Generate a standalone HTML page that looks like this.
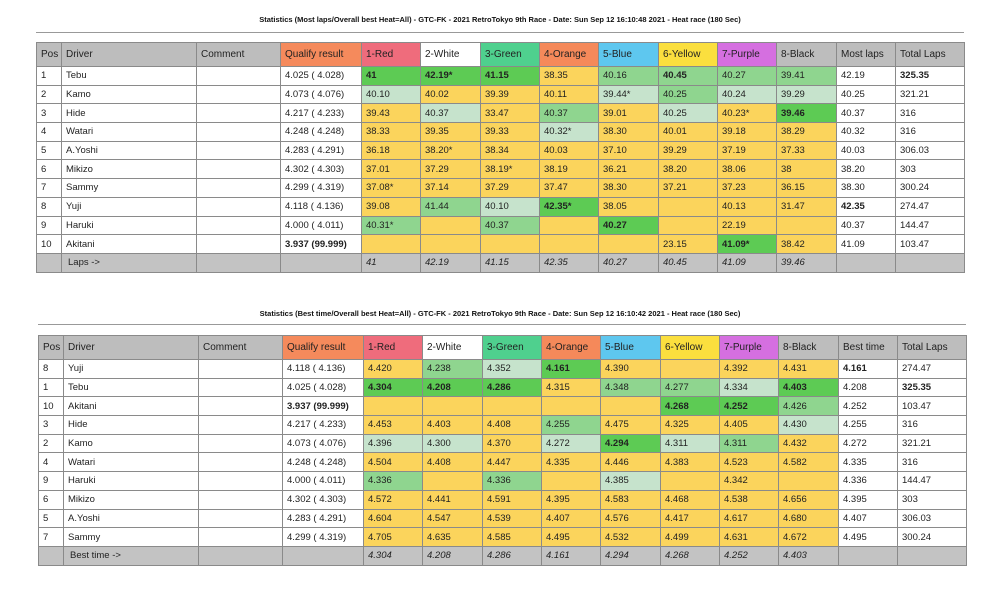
<!DOCTYPE html>
<html><head><meta charset="utf-8"><style>
body{margin:0;width:1000px;height:589px;background:#fff;position:relative;overflow:hidden;font-family:"Liberation Sans","DejaVu Sans",sans-serif;}
.title{position:absolute;left:0;width:1000px;text-align:center;font-size:7.5px;font-weight:bold;color:#111;}
.hr{position:absolute;height:1px;background:#999;}
table{position:absolute;border-collapse:collapse;table-layout:fixed;font-size:9.5px;color:#222;}
td{border:1px solid #8a8a8a;padding:0 0 0 4px;white-space:nowrap;overflow:hidden;height:17.7px;line-height:17px;}
tr.h td{height:23px;background:#bdbdbd;font-size:10px;}
tr.f td{height:18px;background:#c3c3c3;font-style:italic;}
.Y{background:#fbd45c}.G{background:#5dcb54}.M{background:#8fd58f}.L{background:#c6e3cc}
.q{background:#f58a5c!important}.r{background:#ef6c7c!important}.w{background:#fff!important}.gr{background:#4fd08e!important}.o{background:#f5895a!important}.bl{background:#5ec7ef!important}.yl{background:#fbdf3e!important}.pu{background:#d56fe0!important}
b{font-weight:bold}
</style></head><body>
<div class="title" style="top:15px">Statistics (Most laps/Overall best Heat=All) - GTC-FK - 2021 RetroTokyo 9th Race - Date: Sun Sep 12 16:10:48 2021 - Heat race (180 Sec)</div>
<div class="hr" style="top:32px;left:36px;width:928px"></div>
<table style="left:36px;top:42px;width:928px">
<colgroup><col style="width:25px"><col style="width:135px"><col style="width:84px"><col style="width:81px"><col style="width:59px"><col style="width:60px"><col style="width:59px"><col style="width:59px"><col style="width:60px"><col style="width:59px"><col style="width:59px"><col style="width:60px"><col style="width:59px"><col style="width:69px"></colgroup>
<tr class="h"><td>Pos</td><td>Driver</td><td>Comment</td><td class="q">Qualify result</td><td class="r">1-Red</td><td class="w">2-White</td><td class="gr">3-Green</td><td class="o">4-Orange</td><td class="bl">5-Blue</td><td class="yl">6-Yellow</td><td class="pu">7-Purple</td><td>8-Black</td><td>Most laps</td><td>Total Laps</td></tr>
<tr><td>1</td><td>Tebu</td><td></td><td>4.025 ( 4.028)</td><td class="G"><b>41</b></td><td class="G"><b>42.19*</b></td><td class="G"><b>41.15</b></td><td class="Y">38.35</td><td class="M">40.16</td><td class="M"><b>40.45</b></td><td class="M">40.27</td><td class="M">39.41</td><td>42.19</td><td><b>325.35</b></td></tr>
<tr><td>2</td><td>Kamo</td><td></td><td>4.073 ( 4.076)</td><td class="L">40.10</td><td class="Y">40.02</td><td class="Y">39.39</td><td class="Y">40.11</td><td class="L">39.44*</td><td class="M">40.25</td><td class="L">40.24</td><td class="L">39.29</td><td>40.25</td><td>321.21</td></tr>
<tr><td>3</td><td>Hide</td><td></td><td>4.217 ( 4.233)</td><td class="Y">39.43</td><td class="L">40.37</td><td class="Y">33.47</td><td class="M">40.37</td><td class="Y">39.01</td><td class="L">40.25</td><td class="Y">40.23*</td><td class="G"><b>39.46</b></td><td>40.37</td><td>316</td></tr>
<tr><td>4</td><td>Watari</td><td></td><td>4.248 ( 4.248)</td><td class="Y">38.33</td><td class="Y">39.35</td><td class="Y">39.33</td><td class="L">40.32*</td><td class="Y">38.30</td><td class="Y">40.01</td><td class="Y">39.18</td><td class="Y">38.29</td><td>40.32</td><td>316</td></tr>
<tr><td>5</td><td>A.Yoshi</td><td></td><td>4.283 ( 4.291)</td><td class="Y">36.18</td><td class="Y">38.20*</td><td class="Y">38.34</td><td class="Y">40.03</td><td class="Y">37.10</td><td class="Y">39.29</td><td class="Y">37.19</td><td class="Y">37.33</td><td>40.03</td><td>306.03</td></tr>
<tr><td>6</td><td>Mikizo</td><td></td><td>4.302 ( 4.303)</td><td class="Y">37.01</td><td class="Y">37.29</td><td class="Y">38.19*</td><td class="Y">38.19</td><td class="Y">36.21</td><td class="Y">38.20</td><td class="Y">38.06</td><td class="Y">38</td><td>38.20</td><td>303</td></tr>
<tr><td>7</td><td>Sammy</td><td></td><td>4.299 ( 4.319)</td><td class="Y">37.08*</td><td class="Y">37.14</td><td class="Y">37.29</td><td class="Y">37.47</td><td class="Y">38.30</td><td class="Y">37.21</td><td class="Y">37.23</td><td class="Y">36.15</td><td>38.30</td><td>300.24</td></tr>
<tr><td>8</td><td>Yuji</td><td></td><td>4.118 ( 4.136)</td><td class="Y">39.08</td><td class="M">41.44</td><td class="L">40.10</td><td class="G"><b>42.35*</b></td><td class="Y">38.05</td><td class="Y"></td><td class="Y">40.13</td><td class="Y">31.47</td><td><b>42.35</b></td><td>274.47</td></tr>
<tr><td>9</td><td>Haruki</td><td></td><td>4.000 ( 4.011)</td><td class="M">40.31*</td><td class="Y"></td><td class="M">40.37</td><td class="Y"></td><td class="G"><b>40.27</b></td><td class="Y"></td><td class="Y">22.19</td><td class="Y"></td><td>40.37</td><td>144.47</td></tr>
<tr><td>10</td><td>Akitani</td><td></td><td><b>3.937 (99.999)</b></td><td class="Y"></td><td class="Y"></td><td class="Y"></td><td class="Y"></td><td class="Y"></td><td class="Y">23.15</td><td class="G"><b>41.09*</b></td><td class="Y">38.42</td><td>41.09</td><td>103.47</td></tr>
<tr class="f"><td></td><td style="font-style:normal;padding-left:6px">Laps -&gt;</td><td></td><td></td><td>41</td><td>42.19</td><td>41.15</td><td>42.35</td><td>40.27</td><td>40.45</td><td>41.09</td><td>39.46</td><td></td><td></td></tr>
</table>

<div class="title" style="top:309px">Statistics (Best time/Overall best Heat=All) - GTC-FK - 2021 RetroTokyo 9th Race - Date: Sun Sep 12 16:10:42 2021 - Heat race (180 Sec)</div>
<div class="hr" style="top:324px;left:38px;width:928px"></div>
<table style="left:38px;top:335px;width:928px">
<colgroup><col style="width:25px"><col style="width:135px"><col style="width:84px"><col style="width:81px"><col style="width:59px"><col style="width:60px"><col style="width:59px"><col style="width:59px"><col style="width:60px"><col style="width:59px"><col style="width:59px"><col style="width:60px"><col style="width:59px"><col style="width:69px"></colgroup>
<tr class="h"><td>Pos</td><td>Driver</td><td>Comment</td><td class="q">Qualify result</td><td class="r">1-Red</td><td class="w">2-White</td><td class="gr">3-Green</td><td class="o">4-Orange</td><td class="bl">5-Blue</td><td class="yl">6-Yellow</td><td class="pu">7-Purple</td><td>8-Black</td><td>Best time</td><td>Total Laps</td></tr>
<tr><td>8</td><td>Yuji</td><td></td><td>4.118 ( 4.136)</td><td class="Y">4.420</td><td class="M">4.238</td><td class="L">4.352</td><td class="G"><b>4.161</b></td><td class="Y">4.390</td><td class="Y"></td><td class="Y">4.392</td><td class="Y">4.431</td><td><b>4.161</b></td><td>274.47</td></tr>
<tr><td>1</td><td>Tebu</td><td></td><td>4.025 ( 4.028)</td><td class="G"><b>4.304</b></td><td class="G"><b>4.208</b></td><td class="G"><b>4.286</b></td><td class="Y">4.315</td><td class="M">4.348</td><td class="M">4.277</td><td class="L">4.334</td><td class="G"><b>4.403</b></td><td>4.208</td><td><b>325.35</b></td></tr>
<tr><td>10</td><td>Akitani</td><td></td><td><b>3.937 (99.999)</b></td><td class="Y"></td><td class="Y"></td><td class="Y"></td><td class="Y"></td><td class="Y"></td><td class="G"><b>4.268</b></td><td class="G"><b>4.252</b></td><td class="M">4.426</td><td>4.252</td><td>103.47</td></tr>
<tr><td>3</td><td>Hide</td><td></td><td>4.217 ( 4.233)</td><td class="Y">4.453</td><td class="Y">4.403</td><td class="Y">4.408</td><td class="M">4.255</td><td class="Y">4.475</td><td class="Y">4.325</td><td class="Y">4.405</td><td class="L">4.430</td><td>4.255</td><td>316</td></tr>
<tr><td>2</td><td>Kamo</td><td></td><td>4.073 ( 4.076)</td><td class="L">4.396</td><td class="L">4.300</td><td class="Y">4.370</td><td class="L">4.272</td><td class="G"><b>4.294</b></td><td class="L">4.311</td><td class="M">4.311</td><td class="Y">4.432</td><td>4.272</td><td>321.21</td></tr>
<tr><td>4</td><td>Watari</td><td></td><td>4.248 ( 4.248)</td><td class="Y">4.504</td><td class="Y">4.408</td><td class="Y">4.447</td><td class="Y">4.335</td><td class="Y">4.446</td><td class="Y">4.383</td><td class="Y">4.523</td><td class="Y">4.582</td><td>4.335</td><td>316</td></tr>
<tr><td>9</td><td>Haruki</td><td></td><td>4.000 ( 4.011)</td><td class="M">4.336</td><td class="Y"></td><td class="M">4.336</td><td class="Y"></td><td class="L">4.385</td><td class="Y"></td><td class="Y">4.342</td><td class="Y"></td><td>4.336</td><td>144.47</td></tr>
<tr><td>6</td><td>Mikizo</td><td></td><td>4.302 ( 4.303)</td><td class="Y">4.572</td><td class="Y">4.441</td><td class="Y">4.591</td><td class="Y">4.395</td><td class="Y">4.583</td><td class="Y">4.468</td><td class="Y">4.538</td><td class="Y">4.656</td><td>4.395</td><td>303</td></tr>
<tr><td>5</td><td>A.Yoshi</td><td></td><td>4.283 ( 4.291)</td><td class="Y">4.604</td><td class="Y">4.547</td><td class="Y">4.539</td><td class="Y">4.407</td><td class="Y">4.576</td><td class="Y">4.417</td><td class="Y">4.617</td><td class="Y">4.680</td><td>4.407</td><td>306.03</td></tr>
<tr><td>7</td><td>Sammy</td><td></td><td>4.299 ( 4.319)</td><td class="Y">4.705</td><td class="Y">4.635</td><td class="Y">4.585</td><td class="Y">4.495</td><td class="Y">4.532</td><td class="Y">4.499</td><td class="Y">4.631</td><td class="Y">4.672</td><td>4.495</td><td>300.24</td></tr>
<tr class="f"><td></td><td style="font-style:normal;padding-left:6px">Best time -&gt;</td><td></td><td></td><td>4.304</td><td>4.208</td><td>4.286</td><td>4.161</td><td>4.294</td><td>4.268</td><td>4.252</td><td>4.403</td><td></td><td></td></tr>
</table>
</body></html>
